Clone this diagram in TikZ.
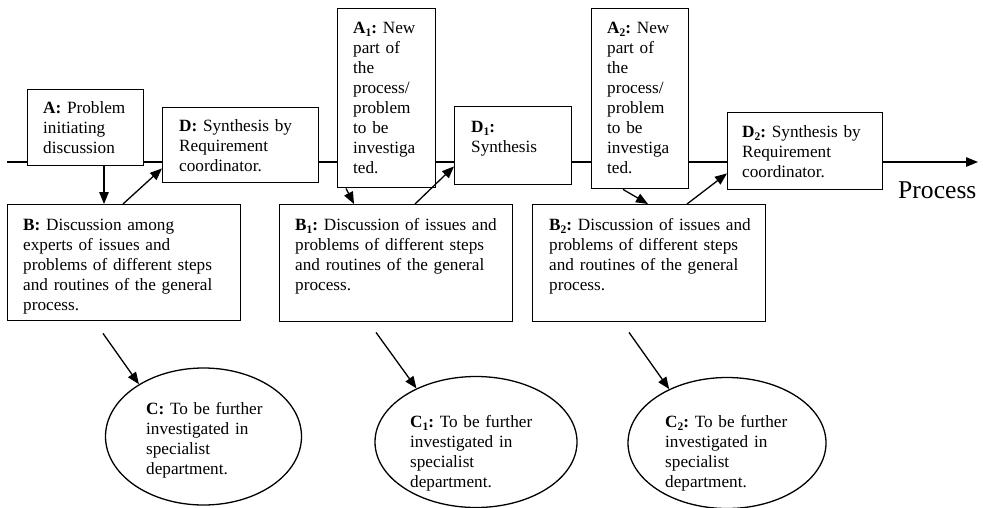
\documentclass[tikz,border=0pt]{standalone}
\usepackage{fontspec}
\setmainfont{Liberation Serif}
\usetikzlibrary{arrows.meta,shapes.geometric}
% lowered index digit for the step labels
\newcommand\idx[1]{\raisebox{-0.22em}{\fontsize{11.5}{12}\selectfont #1}}
\begin{document}
\frenchspacing
\begin{tikzpicture}[x=1pt,y=-1pt,
  box/.style={draw,line width=1.4pt,inner sep=0pt,anchor=north west},
  oval/.style={draw,ellipse,line width=1.3pt,inner sep=0pt},
  txt/.style={anchor=base west,inner sep=0pt,text width=240pt,align=left,
              font=\fontsize{17.2}{20}\selectfont\frenchspacing},
  link/.style={line width=1.3pt},
  arr/.style={line width=1.3pt,-{Triangle[length=12pt,width=9.5pt]}}]
\useasboundingbox (0,0) rectangle (984,507);

% boxes along the process line
\node[box,minimum width=116pt,minimum height=76pt]  (A)  at (27,89)  {};
\node[box,minimum width=156pt,minimum height=75pt]  (D)  at (162,107) {};
\node[box,minimum width=233pt,minimum height=116pt] (B)  at (7,204)  {};
\node[box,minimum width=98pt,minimum height=179pt]  (A1) at (337,8)  {};
\node[box,minimum width=117pt,minimum height=78pt]  (D1) at (454,106) {};
\node[box,minimum width=233pt,minimum height=117pt] (B1) at (279,204) {};
\node[box,minimum width=97pt,minimum height=180pt]  (A2) at (591,8)  {};
\node[box,minimum width=155pt,minimum height=77pt]  (D2) at (727,112) {};
\node[box,minimum width=233pt,minimum height=117pt] (B2) at (532,204) {};

% specialist departments
\node[oval,minimum width=196pt,minimum height=137pt] (C)  at (203.5,436.5) {};
\node[oval,minimum width=202pt,minimum height=131pt] (C1) at (476,442) {};
\node[oval,minimum width=198pt,minimum height=131pt] (C2) at (727,443) {};

% texts
\node[txt] (tA)  at (43,113)  {\textbf{A:} Problem\\ initiating\\ discussion};
\node[txt] (tD)  at (179,131) {\textbf{D:} Synthesis by\\ Requirement\\ coordinator.};
\node[txt] (tB)  at (23,230)  {\textbf{B:} Discussion among\\ experts of issues and\\ problems of different steps\\ and routines of the general\\ process.};
\node[txt] (tA1) at (353,33)  {\textbf{A\idx{1}:} New\\ part of\\ the\\ process/\\ problem\\ to be\\ investiga\\ ted.};
\node[txt] (tD1) at (471,132) {\textbf{D\idx{1}:}\\ Synthesis};
\node[txt] (tB1) at (295,230) {\textbf{B\idx{1}:} Discussion of issues and\\ problems of different steps\\ and routines of the general\\ process.};
\node[txt] (tA2) at (607,33)  {\textbf{A\idx{2}:} New\\ part of\\ the\\ process/\\ problem\\ to be\\ investiga\\ ted.};
\node[txt] (tD2) at (742,137) {\textbf{D\idx{2}:} Synthesis by\\ Requirement\\ coordinator.};
\node[txt] (tB2) at (549,230) {\textbf{B\idx{2}:} Discussion of issues and\\ problems of different steps\\ and routines of the general\\ process.};
\node[txt] (tC)  at (146,414) {\textbf{C:} To be further\\ investigated in\\ specialist\\ department.};
\node[txt] (tC1) at (410,427) {\textbf{C\idx{1}:} To be further\\ investigated in\\ specialist\\ department.};
\node[txt] (tC2) at (665,427) {\textbf{C\idx{2}:} To be further\\ investigated in\\ specialist\\ department.};

\node[anchor=base west,inner sep=0pt,font=\fontsize{25.6}{30}\selectfont] (P) at (898,198) {Process};

% the process line
\coordinate (L) at (7,162);
\coordinate (E) at (978,162);
\draw[link] (L) -- (L -| A.west);
\draw[link] (L -| A.east) -- (L -| D.west);
\draw[link] (L -| D.east) -- (L -| A1.west);
\draw[link] (L -| A1.east) -- (L -| D1.west);
\draw[link] (L -| D1.east) -- (L -| A2.west);
\draw[link] (L -| A2.east) -- (L -| D2.west);
\draw[arr]  (L -| D2.east) -- (E);

% flow between the boxes
\draw[arr] ([xshift=77pt]A.south west) -- ([xshift=97pt]B.north west);
\draw[arr] ([xshift=116pt]B.north west) -- ([yshift=15pt]D.south west);
\draw[arr] ([xshift=9pt]A1.south west) -- ([xshift=75pt]B1.north west);
\draw[arr] ([xshift=136pt]B1.north west) -- ([yshift=19pt]D1.south west);
\draw[arr] ([xshift=32pt]A2.south west) -- ([xshift=116pt]B2.north west);
\draw[arr] ([xshift=155pt]B2.north west) -- ([yshift=17pt]D2.south west);

% hand-over to the specialist departments
\draw[arr] ([xshift=96pt,yshift=-12pt]B.south west) -- (C.141);
\draw[arr] ([xshift=97pt,yshift=-10pt]B1.south west) -- (C1.138);
\draw[arr] ([xshift=97pt,yshift=-10pt]B2.south west) -- (C2.137);
\end{tikzpicture}
\end{document}
